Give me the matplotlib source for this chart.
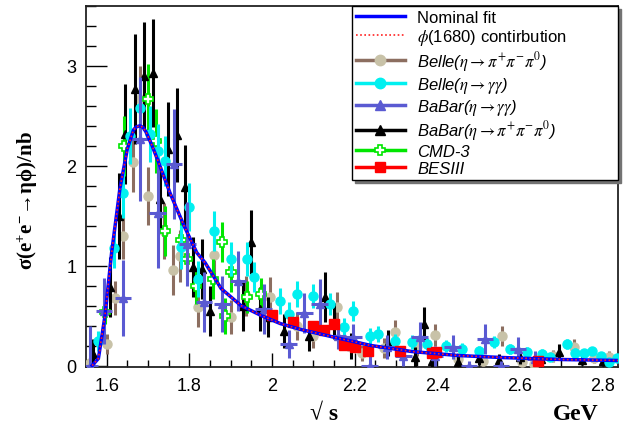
import matplotlib
matplotlib.use("Agg")
import matplotlib.pyplot as plt
from matplotlib.lines import Line2D
from matplotlib.ticker import MultipleLocator

# ---------------- data ----------------
fit_x = [1.565, 1.58, 1.596, 1.612, 1.632, 1.65, 1.665, 1.672, 1.68, 1.688, 1.695, 1.71, 1.726,
         1.753, 1.787, 1.818, 1.838, 1.877, 1.925, 1.974, 2.02, 2.07, 2.143, 2.24, 2.338,
         2.45, 2.556, 2.70, 2.84]
fit_y = [0.0, 0.07, 0.50, 1.13, 1.77, 2.17, 2.36, 2.39, 2.40, 2.385, 2.34, 2.20, 2.03,
         1.73, 1.40, 1.13, 1.03, 0.77, 0.60, 0.50, 0.42, 0.36, 0.29, 0.20, 0.14,
         0.10, 0.08, 0.06, 0.05]

belle3_x = [1.56, 1.60, 1.62, 1.64, 1.664, 1.68, 1.70, 1.738, 1.76, 1.777, 1.82, 1.86, 1.90, 1.937,
            1.996, 2.06, 2.10, 2.158, 2.217, 2.27, 2.297, 2.35, 2.394, 2.45, 2.51, 2.556, 2.605,
            2.634, 2.68, 2.73, 2.78, 2.816]
belle3_y = [0.03, 0.22, 0.68, 1.30, 2.04, 2.67, 1.70, 1.35, 0.96, 1.10, 0.59, 1.11, 0.49, 0.70,
            0.69, 0.40, 0.30, 0.59, 0.13, 0.18, 0.34, 0.20, 0.31, 0.07, 0.05, 0.30, 0.04,
            0.02, 0.10, 0.19, 0.08, 0.09]
belle3_e = [0.05, 0.10, 0.17, 0.23, 0.30, 0.33, 0.29, 0.28, 0.25, 0.26, 0.20, 0.24, 0.17, 0.20,
            0.20, 0.14, 0.12, 0.15, 0.08, 0.10, 0.12, 0.10, 0.11, 0.06, 0.05, 0.10, 0.04,
            0.04, 0.06, 0.08, 0.05, 0.06]

belleg_x = [1.578, 1.617, 1.64, 1.657, 1.68, 1.705, 1.723, 1.74, 1.78, 1.80, 1.82, 1.86, 1.90, 1.94,
            1.957, 2.02, 2.04, 2.06, 2.10, 2.14, 2.175, 2.197, 2.236, 2.257, 2.297, 2.338, 2.375,
            2.42, 2.46, 2.50, 2.537, 2.576, 2.617, 2.653, 2.673, 2.714, 2.733, 2.755, 2.775,
            2.795, 2.816, 2.835]
belleg_y = [0.25, 1.18, 1.73, 2.30, 2.58, 2.32, 2.15, 2.05, 1.19, 1.59, 0.87, 1.35, 1.07, 1.07,
            0.89, 0.65, 0.52, 0.72, 0.70, 0.62, 0.39, 0.55, 0.30, 0.32, 0.25, 0.24, 0.22,
            0.20, 0.17, 0.15, 0.24, 0.17, 0.14, 0.12, 0.09, 0.22, 0.13, 0.13, 0.15,
            0.10, 0.04, 0.08]
belleg_e = [0.10, 0.20, 0.25, 0.28, 0.30, 0.28, 0.27, 0.25, 0.22, 0.24, 0.18, 0.20, 0.17, 0.17,
            0.15, 0.13, 0.12, 0.13, 0.12, 0.11, 0.09, 0.10, 0.08, 0.08, 0.07, 0.07, 0.06,
            0.06, 0.06, 0.05, 0.06, 0.05, 0.05, 0.05, 0.04, 0.05, 0.05, 0.04, 0.04,
            0.04, 0.04, 0.04]

babarg_x = [1.56, 1.593, 1.64, 1.68, 1.723, 1.763, 1.795, 1.835, 1.88, 1.918, 1.98, 2.04, 2.078,
            2.115, 2.16, 2.197, 2.236, 2.277, 2.318, 2.357, 2.394, 2.437, 2.476, 2.515, 2.554,
            2.595, 2.636]
babarg_y = [0.0, 0.55, 0.68, 2.27, 1.53, 2.02, 1.22, 0.64, 0.62, 0.85, 0.57, 0.22, 0.53,
            0.62, 0.30, 0.29, 0.0, 0.19, 0.10, 0.29, 0.10, 0.19, 0.0, 0.27, 0.0,
            0.17, 0.07]
babarg_e = [0.40, 0.33, 0.38, 0.62, 0.55, 0.55, 0.42, 0.30, 0.28, 0.30, 0.25, 0.14, 0.20,
            0.25, 0.13, 0.13, 0.10, 0.12, 0.10, 0.15, 0.10, 0.12, 0.05, 0.15, 0.05,
            0.12, 0.08]
babarg_xe = [0.02] * len(babarg_x)

babar3_x = [1.568, 1.607, 1.63, 1.645, 1.668, 1.69, 1.712, 1.73, 1.748, 1.77, 1.789, 1.81, 1.83,
            1.85, 1.93, 1.95, 1.97, 1.99, 2.03, 2.09, 2.127, 2.15, 2.19, 2.28, 2.345, 2.367,
            2.386, 2.45, 2.50, 2.55, 2.60, 2.65, 2.695, 2.75, 2.80]
babar3_y = [0.12, 0.79, 1.50, 2.32, 2.77, 2.90, 2.93, 1.67, 2.17, 2.31, 1.79, 0.99, 0.97,
            0.55, 0.60, 1.24, 0.57, 0.49, 0.35, 0.30, 0.69, 0.45, 0.20, 0.23, 0.09, 0.42,
            0.05, 0.04, 0.08, 0.06, 0.09, 0.07, 0.14, 0.06, 0.05]
babar3_e = [0.15, 0.30, 0.43, 0.50, 0.55, 0.54, 0.54, 0.33, 0.47, 0.47, 0.42, 0.30, 0.30,
            0.25, 0.25, 0.32, 0.22, 0.20, 0.17, 0.15, 0.25, 0.18, 0.13, 0.13, 0.10, 0.17,
            0.08, 0.06, 0.07, 0.06, 0.07, 0.06, 0.08, 0.05, 0.05]

cmd3_x = [1.597, 1.642, 1.70, 1.72, 1.74, 1.78, 1.795, 1.815, 1.857, 1.88, 1.887, 1.90, 1.94, 1.974]
cmd3_y = [0.54, 2.20, 2.67, 2.25, 1.35, 1.26, 1.07, 0.80, 0.87, 1.24, 0.50, 0.94, 0.69, 0.72]
cmd3_e = [0.12, 0.30, 0.35, 0.32, 0.25, 0.22, 0.20, 0.18, 0.20, 0.20, 0.18, 0.20, 0.16, 0.16]
cmd3_xe = [0.012] * len(cmd3_x)

bes_x = [2.00, 2.05, 2.10, 2.125, 2.15, 2.175, 2.20, 2.2324, 2.3094, 2.3864, 2.396, 2.6444]
bes_y = [0.51, 0.44, 0.40, 0.36, 0.42, 0.21, 0.19, 0.15, 0.15, 0.13, 0.14, 0.05]
bes_e = [0.04, 0.03, 0.03, 0.03, 0.03, 0.02, 0.02, 0.02, 0.02, 0.02, 0.02, 0.01]

labels = ["Nominal fit", r"$\phi$(1680) contirbution",
          r"Belle($\eta\rightarrow\pi^{+}\pi^{-}\pi^{0}$)",
          r"Belle($\eta\rightarrow\gamma\gamma$)",
          r"BaBar($\eta\rightarrow\gamma\gamma$)",
          r"BaBar($\eta\rightarrow\pi^{+}\pi^{-}\pi^{0}$)",
          "CMD-3", "BESIII"]

# ---------------- styles ----------------
C_BROWN = "#8c6e60"
C_TAN = "#c8c2a8"
C_CYAN = "#00f0f0"
C_SLATE = "#5a5ad2"
C_GREEN = "#00e600"
C_RED = "#ff0000"

plt.rcParams['font.family'] = ['Liberation Sans', 'DejaVu Sans']
plt.rcParams['mathtext.rm'] = 'Liberation Serif:bold'
plt.rcParams['mathtext.it'] = 'Liberation Serif:italic:bold'
plt.rcParams['mathtext.bf'] = 'Liberation Serif:bold'

fig = plt.figure(figsize=(6.4, 4.35), dpi=100)
AX_L, AX_R, AX_T, AX_B = 86, 618, 7, 368
ax = fig.add_axes([AX_L/640, 1-AX_B/435, (AX_R-AX_L)/640, (AX_B-AX_T)/435])

ekw = dict(linestyle='none', elinewidth=2.2, capsize=0)

ax.errorbar(belle3_x, belle3_y, yerr=belle3_e, marker='o', ms=6.5, mfc=C_TAN, mec=C_TAN,
            ecolor=C_BROWN, zorder=3, **ekw)
ax.errorbar(babar3_x, babar3_y, yerr=babar3_e, marker='^', ms=5.5, mfc='black', mec='black',
            ecolor='black', zorder=3.2, **ekw)
ax.errorbar(cmd3_x, cmd3_y, yerr=cmd3_e, xerr=cmd3_xe, marker='P', ms=7, mfc='white', mec=C_GREEN,
            mew=1.2, ecolor=C_GREEN, zorder=3.3, **ekw)
ax.errorbar(belleg_x, belleg_y, yerr=belleg_e, marker='o', ms=6.5, mfc=C_CYAN, mec=C_CYAN,
            ecolor=C_CYAN, zorder=3.4, **ekw)
ax.errorbar(babarg_x, babarg_y, yerr=babarg_e, xerr=babarg_xe, marker='^', ms=6, mfc=C_SLATE,
            mec=C_SLATE, ecolor=C_SLATE, zorder=3.5, **ekw)
ax.errorbar(bes_x, bes_y, yerr=bes_e, marker='s', ms=7, mfc=C_RED, mec=C_RED,
            ecolor=C_RED, zorder=3.6, **ekw)

ax.plot(fit_x, fit_y, color='#0000ff', lw=2.5, zorder=5)
ax.plot(fit_x, fit_y, color='#ff2020', lw=1.2, ls=(0, (1, 1.5)), zorder=6)

ax.set_xlim(1.55, 2.837)
ax.set_ylim(-0.015, 3.6)
ax.xaxis.set_minor_locator(MultipleLocator(0.05))
ax.yaxis.set_major_locator(MultipleLocator(1))
ax.yaxis.set_minor_locator(MultipleLocator(0.2))
ax.set_xticks([1.6, 1.8, 2.0, 2.2, 2.4, 2.6, 2.8])
ax.set_xticklabels(["1.6", "1.8", "2", "2.2", "2.4", "2.6", "2.8"])
ax.tick_params(axis='x', which='major', direction='in', length=10, width=1, labelsize=13, pad=7)
ax.tick_params(axis='x', which='minor', direction='in', length=5, width=1)
ax.tick_params(axis='y', which='major', direction='in', length=15, width=1, labelsize=13, pad=7)
ax.tick_params(axis='y', which='minor', direction='in', length=7, width=1)
for s in ax.spines.values():
    s.set_linewidth(1.3)
    s.set_color('#222222')

# legend
handles = [
    Line2D([], [], color='#0000ff', lw=2.5),
    Line2D([], [], color='#ff2020', lw=1.2, ls=(0, (1, 1.5))),
    Line2D([], [], color=C_BROWN, lw=2.5, marker='o', ms=7.5, mfc=C_TAN, mec=C_TAN),
    Line2D([], [], color=C_CYAN, lw=2.5, marker='o', ms=7.5, mfc=C_CYAN, mec=C_CYAN),
    Line2D([], [], color=C_SLATE, lw=2.5, marker='^', ms=7.5, mfc=C_SLATE, mec=C_SLATE),
    Line2D([], [], color='black', lw=2.5, marker='^', ms=6.5, mfc='black', mec='black'),
    Line2D([], [], color=C_GREEN, lw=2.5, marker='P', ms=7.5, mfc='white', mec=C_GREEN, mew=1.2),
    Line2D([], [], color=C_RED, lw=2.5, marker='s', ms=7.5, mfc=C_RED, mec=C_RED),
]
ax_w = AX_R - AX_L
leg = ax.legend(handles, labels, loc='upper left',
                bbox_to_anchor=((352-AX_L)/ax_w, 0.0, (AX_R-352)/ax_w, 1.0),
                mode='expand', borderaxespad=0,
                fontsize=12, handlelength=2.9, handletextpad=0.75, labelspacing=0.11,
                frameon=True, fancybox=False, edgecolor='black', framealpha=1,
                borderpad=0.25, numpoints=1,
                shadow={'color': '0.45', 'alpha': 1})
leg.get_frame().set_linewidth(1.0)
for i, t in enumerate(leg.get_texts()):
    t.set_math_fontfamily('stix')
    if i >= 2:
        t.set_fontstyle('italic')

# axis labels
fig.text(28/640, 1-201/435,
         r'$\mathrm{\sigma(e^{+}e^{-}\!\rightarrow\!\eta\phi)/nb}$',
         rotation=90, ha='center', va='center', fontsize=15,
         math_fontfamily='custom')
fig.text(324/640, 1-415/435, "\u221a s", ha='center', va='center', fontsize=17,
         fontweight='bold', family=['Liberation Serif', 'DejaVu Serif'])
fig.text(576/640, 1-415/435, "GeV", ha='center', va='center', fontsize=17,
         fontweight='bold', family=['Liberation Serif', 'DejaVu Serif'])

fig.savefig("out.png", dpi=100)
